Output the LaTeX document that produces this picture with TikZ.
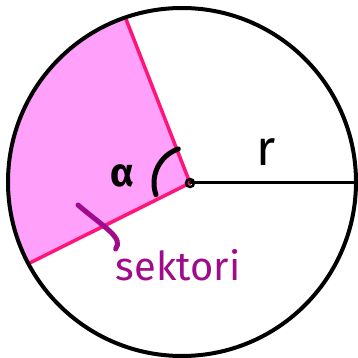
\documentclass[tikz,border=0pt]{standalone}
\usepackage{fontspec}
\setsansfont{Fira Sans}
\usepackage{tikz}
\usetikzlibrary{calc}
\definecolor{secpink}{RGB}{255,160,250}
\definecolor{edgepink}{RGB}{255,20,120}
\definecolor{labpurple}{RGB}{160,10,140}

\begin{document}
\begin{tikzpicture}[
		x=1bp,y=1bp,
		secfill/.style={fill=secpink},
		radline/.style={draw=edgepink,line width=3.5bp,line cap=round},
		rim/.style={draw=black,line width=4bp},
		blackline/.style={draw=black,line width=3bp,line cap=round},
		anglearc/.style={draw=black,line width=5bp,line cap=round},
		pointer/.style={draw=labpurple,line width=5bp,line cap=round},
		lab/.style={inner sep=0pt,font=\sffamily\fontsize{40}{40}\selectfont}]
	\useasboundingbox (0,0) rectangle (358,358);
	\coordinate (C) at (182,176);
	\coordinate (O) at (190,175);
	\coordinate (A) at ($(C)+(109:174bp)$);
	\coordinate (B) at ($(C)+(208:174bp)$);
	\coordinate (R) at ($(C)+(0:174bp)$);
	\fill[secfill] (O) -- (A) arc[start angle=109,end angle=208,radius=174bp] -- cycle;
	\draw[radline] (O) -- (A);
	\draw[radline] (O) -- (B);
	\draw[rim] (C) circle[radius=174bp];
	\draw[blackline] (O) -- (R |- O);
	\draw[black,line width=2.5bp] (O) circle[radius=4bp];
	\draw[anglearc] ($(O)+(109:36bp)$) arc[start angle=109,end angle=199,radius=36bp];
	\node[lab,font=\sffamily\bfseries\fontsize{40}{40}\selectfont] (alpha) at (122,182) {α};
	\node[lab,font=\sffamily\fontsize{50}{50}\selectfont] (rlab) at (266,206) {r};
	\node[lab,text=labpurple] (sektori) at (178,93) {sektori};
	\coordinate (tip) at (78,153);
	\draw[pointer] (tip) .. controls (105,130) and (124,120) .. (sektori.north west);
\end{tikzpicture}
\end{document}
